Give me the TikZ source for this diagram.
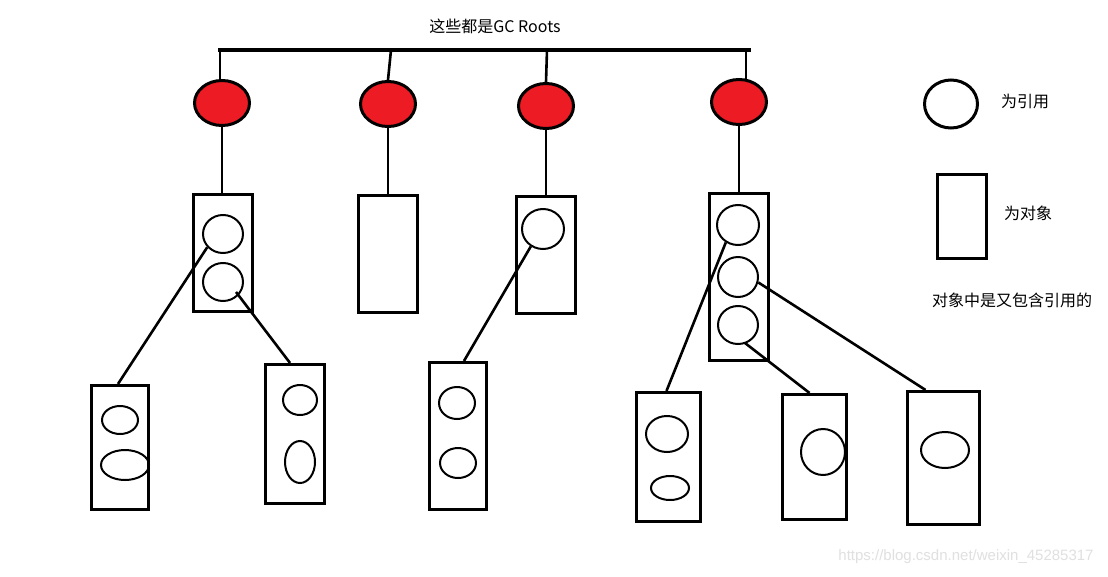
\documentclass[tikz,border=0pt]{standalone}
\usepackage{fontspec}
\setmainfont{Noto Sans CJK SC}
\newfontfamily\wmfont{Liberation Sans}
\usetikzlibrary{shapes.geometric,calc}
\begin{document}
\begin{tikzpicture}[x=1pt,y=-1pt,
  rootnode/.style={ellipse,draw=black,fill=red!85!black!90,line width=3pt,minimum width=55pt,minimum height=45pt,inner sep=0pt},
  objbox/.style={rectangle,draw=black,line width=3.1pt,inner sep=0pt},
  refnode/.style={ellipse,draw=black,line width=2pt,inner sep=0pt},
  link/.style={line width=2.6pt},
  lbl/.style={font=\fontsize{16}{19}\selectfont,inner sep=0pt}
]
\useasboundingbox[fill=white] (0,0) rectangle (1108,576);
\definecolor{rootred}{RGB}{237,28,36}
\tikzset{rootnode/.append style={fill=rootred}}

% title
\node[lbl] (title) at (495,26) {这些都是GC Roots};

% top bar
\coordinate (barL) at (218,50);
\coordinate (barR) at (751,50);
\draw[line width=3.2pt] (barL) -- (barR);
\coordinate (t1) at (220,50);
\coordinate (t2) at (391,50);
\coordinate (t3) at (547,50);
\coordinate (t4) at (746,50);

% roots
\node[rootnode] (r1) at (222,103) {};
\node[rootnode] (r2) at (388,104) {};
\node[rootnode] (r3) at (546,106) {};
\node[rootnode] (r4) at (739,102) {};

\draw[link] (t1) -- (t1 |- r1.north);
\draw[link] (t2) -- (r2.north);
\draw[link] (t3) -- (r3.north);
\draw[link] (t4) -- ($(t4 |- r4.north)+(0,2)$);

% first-level objects
\node[objbox,minimum width=59pt,minimum height=117pt] (o1) at (223,253) {};
\node[objbox,minimum width=59pt,minimum height=117pt] (o2) at (388,254) {};
\node[objbox,minimum width=59pt,minimum height=117pt] (o3) at (546,255) {};
\node[objbox,minimum width=59pt,minimum height=167pt] (o4) at (739,277) {};

\draw[link] (r1.south) -- (r1.south |- o1.north);
\draw[link] (r2.south) -- (r2.south |- o2.north);
\draw[link] (r3.south) -- (r3.south |- o3.north);
\draw[link] (r4.south) -- (r4.south |- o4.north);

% references inside first-level objects
\node[refnode,minimum width=40pt,minimum height=38pt] (c11) at (223,234) {};
\node[refnode,minimum width=40pt,minimum height=38pt] (c12) at (223,282) {};
\node[refnode,minimum width=42pt,minimum height=40pt] (c31) at (543,229) {};
\node[refnode,minimum width=42pt,minimum height=40pt] (c41) at (738,225) {};
\node[refnode,minimum width=40pt,minimum height=40pt] (c42) at (738,277) {};
\node[refnode,minimum width=40pt,minimum height=38pt] (c43) at (738,325) {};

% second-level objects
\node[objbox,minimum width=57pt,minimum height=124pt] (b1) at (120,447.5) {};
\node[objbox,minimum width=59pt,minimum height=139pt] (b2) at (295,434) {};
\node[objbox,minimum width=57pt,minimum height=147pt] (b3) at (458,436) {};
\node[objbox,minimum width=64pt,minimum height=129pt] (b4) at (668.5,457) {};
\node[objbox,minimum width=64pt,minimum height=125pt] (b5) at (814.5,457) {};
\node[objbox,minimum width=72pt,minimum height=133pt] (b6) at (943.5,458) {};

% references inside second-level objects
\node[refnode,minimum width=36pt,minimum height=28pt] (e11) at (120,420) {};
\node[refnode,minimum width=48pt,minimum height=30pt] (e12) at (125,465) {};
\node[refnode,minimum width=34pt,minimum height=30pt] (e21) at (300,400) {};
\node[refnode,minimum width=30pt,minimum height=42pt] (e22) at (300,462) {};
\node[refnode,minimum width=36pt,minimum height=32pt] (e31) at (457,403) {};
\node[refnode,minimum width=36pt,minimum height=30pt] (e32) at (458,463) {};
\node[refnode,minimum width=42pt,minimum height=36pt] (e41) at (667,434) {};
\node[refnode,minimum width=38pt,minimum height=24pt] (e42) at (670,488) {};
\node[refnode,minimum width=44pt,minimum height=46pt] (e51) at (823,452) {};
\node[refnode,minimum width=48pt,minimum height=36pt] (e61) at (945,450) {};

% reference links
\draw[link] (c11.220) -- ($(b1.north)+(-2,0)$);
\draw[link] ($(c12.center)+(13,10)$) -- ($(b2.north)+(-5,0)$);
\draw[link] (c31.235) -- ($(b3.north)+(6,0)$);
\draw[link] (c41.235) -- ($(b4.north)+(-2,0)$);
\draw[link] (c42.345) -- ($(b6.north)+(-18,0)$);
\draw[link] ($(c43.center)+(7,18)$) -- ($(b5.north)+(-5,0)$);

% legend
\node[rootnode,fill=white,minimum width=53pt,minimum height=48pt] (lref) at (951,104) {};
\node[lbl] (lreftext) at (1025,101) {为引用};
\node[objbox,minimum width=49pt,minimum height=84pt] (lobj) at (962,216.5) {};
\node[lbl] (lobjtext) at (1028,213) {为对象};
\node[lbl] (note) at (1012,300) {对象中是又包含引用的};

% watermark
\node[inner sep=0pt,text=black!12,font=\wmfont\fontsize{15}{18}\selectfont] (wm) at (966,557) {https://blog.csdn.net/weixin\_45285317};
\end{tikzpicture}
\end{document}
